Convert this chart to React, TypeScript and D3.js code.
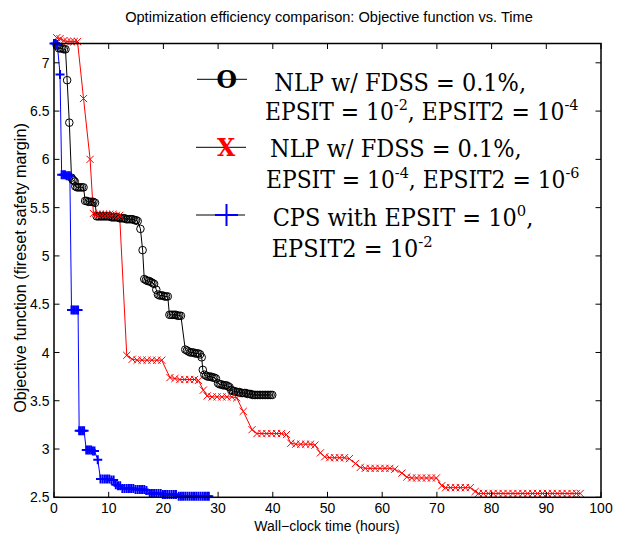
import React from 'react';
import * as d3 from 'd3';

// axis ticks
const xTicks = [0, 10, 20, 30, 40, 50, 60, 70, 80, 90, 100];
const yTicks = [2.5, 3, 3.5, 4, 4.5, 5, 5.5, 6, 6.5, 7];

// [wall-clock hours, objective]
// NLP w/ FDSS = 0.1%, EPSIT = 1e-2, EPSIT2 = 1e-4 (black circles)
const nlpCoarse: [number, number][] = [
  [0.5, 7.18], [0.9, 7.15], [1.2, 7.15], [1.5, 7.15], [1.8, 7.14], [2.1, 7.14],
  [2.4, 6.82], [2.8, 6.38], [3.2, 5.81], [3.4, 5.79], [3.6, 5.78], [3.8, 5.77],
  [3.9, 5.72], [4.2, 5.71], [4.5, 5.71], [4.8, 5.71], [5.1, 5.71], [5.4, 5.71],
  [5.7, 5.57], [6.0, 5.57], [6.3, 5.56], [6.6, 5.56], [6.9, 5.56], [7.2, 5.56], [7.5, 5.55],
  [7.8, 5.41], [8.1, 5.41], [8.4, 5.41], [8.7, 5.41], [9.0, 5.41], [9.3, 5.41], [9.6, 5.41],
  [9.9, 5.41], [10.2, 5.41], [10.5, 5.4], [10.8, 5.4], [11.1, 5.4], [11.4, 5.4], [11.7, 5.4],
  [12.0, 5.39], [12.3, 5.39], [12.6, 5.39], [12.9, 5.39], [13.2, 5.38], [13.5, 5.38],
  [13.8, 5.38], [14.1, 5.38], [14.4, 5.38], [14.7, 5.37], [15.0, 5.37], [15.3, 5.36],
  [15.8, 5.28], [16.2, 5.06],
  [16.5, 4.76], [16.8, 4.75], [17.1, 4.74], [17.4, 4.74], [17.7, 4.73], [18.0, 4.72], [18.3, 4.71],
  [18.7, 4.65], [19.0, 4.6], [19.3, 4.59], [19.6, 4.59], [19.9, 4.59], [20.2, 4.58], [20.5, 4.58], [20.8, 4.58],
  [21.1, 4.39], [21.4, 4.39], [21.7, 4.39], [22.0, 4.39], [22.3, 4.39], [22.6, 4.38], [22.9, 4.38], [23.2, 4.38],
  [24.0, 4.03], [24.3, 4.02], [24.6, 4.01], [24.9, 4.0], [25.2, 4.0], [25.5, 4.0], [25.8, 3.99],
  [26.1, 3.99], [26.4, 3.99], [26.7, 3.98], [27.0, 3.95], [27.2, 3.82],
  [27.5, 3.77], [27.8, 3.76], [28.1, 3.75], [28.4, 3.75], [28.7, 3.75], [29.0, 3.74], [29.3, 3.74], [29.6, 3.73],
  [30.0, 3.68], [30.3, 3.67], [30.6, 3.67], [30.9, 3.66], [31.2, 3.66], [31.5, 3.66], [31.8, 3.65], [32.1, 3.64],
  [32.4, 3.61], [32.7, 3.6], [33.0, 3.6], [33.3, 3.59], [33.6, 3.59], [33.9, 3.59], [34.2, 3.58],
  [34.5, 3.58], [34.8, 3.58], [35.1, 3.58], [35.4, 3.57], [35.7, 3.57],
  [36.0, 3.57], [36.3, 3.56], [36.6, 3.56], [36.9, 3.56], [37.2, 3.56], [37.5, 3.56], [37.8, 3.56],
  [38.1, 3.56], [38.4, 3.56], [38.7, 3.56], [39.0, 3.56], [39.3, 3.56], [39.6, 3.56], [39.9, 3.56],
];

// NLP w/ FDSS = 0.1%, EPSIT = 1e-4, EPSIT2 = 1e-6 (red x)
const nlpFine: [number, number][] = [
  [0.5, 7.26], [1.1, 7.25], [1.8, 7.23], [2.4, 7.22], [3.1, 7.22], [3.7, 7.22], [4.3, 7.22],
  [5.4, 6.63], [6.6, 6.0],
  [7.2, 5.44], [7.8, 5.43], [8.4, 5.43], [9.0, 5.43], [9.6, 5.43], [10.2, 5.43], [10.8, 5.43], [11.4, 5.42], [12.0, 5.42],
  [13.3, 3.97], [14.3, 3.93], [15.2, 3.92], [16.1, 3.92], [17.0, 3.92], [17.9, 3.92], [18.8, 3.92], [19.7, 3.92],
  [21.2, 3.74], [22.1, 3.73], [23.0, 3.72], [23.9, 3.72], [24.8, 3.72], [25.7, 3.72], [26.4, 3.71],
  [27.3, 3.61], [28.0, 3.55], [28.9, 3.54], [29.8, 3.54], [30.7, 3.54], [31.6, 3.54], [32.5, 3.54], [33.4, 3.53],
  [34.6, 3.39], [36.2, 3.2],
  [37.1, 3.16], [38.0, 3.16], [38.9, 3.16], [39.8, 3.16], [40.7, 3.16], [41.6, 3.16], [42.5, 3.15],
  [43.3, 3.06], [44.2, 3.05], [45.1, 3.05], [46.0, 3.05], [46.9, 3.05], [47.7, 3.04],
  [48.7, 2.96],
  [49.5, 2.92], [50.4, 2.91], [51.3, 2.91], [52.2, 2.91], [53.1, 2.91], [54.0, 2.9],
  [55.1, 2.85],
  [56.0, 2.81], [56.9, 2.8], [57.8, 2.8], [58.7, 2.8], [59.6, 2.8], [60.5, 2.8], [61.4, 2.8], [62.3, 2.79],
  [63.6, 2.75],
  [64.5, 2.71], [65.4, 2.7], [66.3, 2.7], [67.2, 2.7], [68.1, 2.7], [69.0, 2.7], [69.9, 2.7],
  [70.9, 2.62],
  [71.6, 2.6], [72.5, 2.6], [73.4, 2.6], [74.3, 2.6], [75.2, 2.6], [76.1, 2.6],
  [77.0, 2.56],
  [77.6, 2.54], [78.5, 2.54], [79.4, 2.54], [80.3, 2.54], [81.2, 2.54], [82.1, 2.54], [83.0, 2.54],
  [83.9, 2.54], [84.8, 2.54], [85.7, 2.54], [86.6, 2.54], [87.5, 2.54], [88.4, 2.54], [89.3, 2.54],
  [90.2, 2.54], [91.1, 2.54], [92.0, 2.54], [92.9, 2.54], [93.8, 2.54], [94.7, 2.54], [95.5, 2.54], [96.2, 2.54],
];

// CPS with EPSIT = 1e0, EPSIT2 = 1e-2 (blue +)
const cps: [number, number][] = [
  [0, 7.2], [0.3, 7.2], [0.6, 7.19], [1.1, 6.88],
  [1.4, 5.84], [1.7, 5.84], [2.0, 5.84], [2.3, 5.83], [2.6, 5.83], [2.9, 5.83],
  [3.2, 4.44], [3.5, 4.44], [3.8, 4.44], [4.1, 4.44], [4.4, 4.44],
  [4.6, 3.19], [4.9, 3.19], [5.2, 3.19], [5.5, 3.19],
  [5.9, 2.99], [6.2, 2.99], [6.5, 2.99], [6.8, 2.99], [7.1, 2.98], [7.4, 2.98],
  [8.0, 2.89],
  [8.5, 2.69], [8.9, 2.69], [9.3, 2.69], [9.7, 2.69], [10.1, 2.69], [10.5, 2.68], [10.9, 2.68],
  [11.3, 2.63], [11.7, 2.62], [12.1, 2.62],
  [12.5, 2.59], [12.9, 2.59], [13.3, 2.59], [13.7, 2.59], [14.1, 2.59], [14.5, 2.59], [14.9, 2.58],
  [15.3, 2.58], [15.7, 2.58], [16.1, 2.58], [16.5, 2.58], [16.9, 2.57],
  [17.5, 2.54], [17.9, 2.54], [18.3, 2.54], [18.7, 2.54], [19.1, 2.54], [19.5, 2.54], [19.9, 2.53],
  [20.3, 2.53], [20.7, 2.53], [21.1, 2.53], [21.5, 2.53], [21.9, 2.53], [22.3, 2.53],
  [22.8, 2.51], [23.2, 2.51], [23.6, 2.51], [24.0, 2.51], [24.4, 2.51], [24.8, 2.51], [25.2, 2.51],
  [25.6, 2.51], [26.0, 2.51], [26.4, 2.51], [26.8, 2.51], [27.2, 2.51], [27.6, 2.51], [28.0, 2.51], [28.3, 2.51],
];

const W = 623;
const H = 537;
const sans = "'Liberation Sans', Arial, Helvetica, sans-serif";
const serif = "'DejaVu Serif', 'Liberation Serif', 'Times New Roman', serif";

// one legend text line, squeezed a little horizontally
function LegendLine({ x, y, sx = 0.955, children }: { x: number; y: number; sx?: number; children: React.ReactNode }) {
  return (
    <g transform={`translate(${x},${y}) scale(${sx},1)`}>
      <text x={0} y={0}>{children}</text>
    </g>
  );
}

export default function App() {
  const x = d3.scaleLinear().domain([0, 100]).range([54, 601]);
  const y = d3.scaleLinear().domain([2.5, 7.2]).range([497.3, 43.5]);
  const [x0, x1] = x.range();
  const [y0, y1] = y.range();
  const line = d3.line<[number, number]>().x(d => x(d[0])).y(d => y(d[1]));
  const tick = 5.5;
  const supSize = 15.5;

  return (
    <div style={{ position: 'absolute', left: 0, top: 0, width: W, height: H, background: '#fff' }}>
      <svg width={W} height={H} style={{ display: 'block' }}>
        <text x={329} y={22} textAnchor="middle" style={{ fontFamily: sans, fontSize: 14.6 }}>
          Optimization efficiency comparison: Objective function vs. Time
        </text>

        {/* series lines */}
        <path d={line(cps) || ''} fill="none" stroke="#0000ff" strokeWidth={1} />
        <path d={line(nlpFine) || ''} fill="none" stroke="#ff0000" strokeWidth={1} />
        <path d={line(nlpCoarse) || ''} fill="none" stroke="#000" strokeWidth={1} />

        {/* markers */}
        <g stroke="#000" fill="none" strokeWidth={1}>
          {nlpCoarse.map((d, i) => (
            <circle key={i} cx={x(d[0])} cy={y(d[1])} r={3.8} />
          ))}
        </g>
        <g stroke="#ff0000" strokeWidth={1}>
          {nlpFine.map((d, i) => {
            const cx = x(d[0]), cy = y(d[1]), s = 3.6;
            return <path key={i} d={`M${cx - s},${cy - s}L${cx + s},${cy + s}M${cx - s},${cy + s}L${cx + s},${cy - s}`} />;
          })}
        </g>
        <g stroke="#0000ff" strokeWidth={2}>
          {cps.map((d, i) => {
            const cx = x(d[0]), cy = y(d[1]), s = 4.5;
            return <path key={i} d={`M${cx - s},${cy}L${cx + s},${cy}M${cx},${cy - s}L${cx},${cy + s}`} />;
          })}
        </g>

        {/* axes box and ticks */}
        <rect x={x0} y={y1} width={x1 - x0} height={y0 - y1} fill="none" stroke="#000" strokeWidth={1.5} />
        <g stroke="#000" strokeWidth={1}>
          {xTicks.map(t => (
            <g key={t}>
              <line x1={x(t)} x2={x(t)} y1={y0} y2={y0 - tick} />
              <line x1={x(t)} x2={x(t)} y1={y1} y2={y1 + tick} />
            </g>
          ))}
          {yTicks.map(t => (
            <g key={t}>
              <line x1={x0} x2={x0 + tick} y1={y(t)} y2={y(t)} />
              <line x1={x1} x2={x1 - tick} y1={y(t)} y2={y(t)} />
            </g>
          ))}
        </g>
        <g style={{ fontFamily: sans, fontSize: 14 }} fill="#000">
          {xTicks.map(t => (
            <text key={t} x={x(t)} y={512.5} textAnchor="middle">{t}</text>
          ))}
          {yTicks.map(t => (
            <text key={t} x={49.5} y={y(t)} dy="0.36em" textAnchor="end">{t}</text>
          ))}
          <text x={327} y={530.5} textAnchor="middle">Wall−clock time (hours)</text>
          <text transform="translate(26,268) rotate(-90)" textAnchor="middle" style={{ fontSize: 16.2 }}>
            Objective function (fireset safety margin)
          </text>
        </g>

        {/* legend */}
        <g style={{ fontFamily: serif, fontSize: 23.5 }} fill="#000">
          <line x1={197} x2={247} y1={79.3} y2={79.3} stroke="#000" strokeWidth={1} />
          <text x={226.7} y={88} textAnchor="middle" fontWeight="bold">O</text>
          <LegendLine x={274.3} y={90.5}>NLP w/ FDSS = 0.1%,</LegendLine>
          <LegendLine x={265} y={120} sx={0.93}>
            <tspan>EPSIT = 10</tspan>
            <tspan dy={-10} fontSize={supSize}>-2</tspan>
            <tspan dy={10}>, EPSIT2 = 10</tspan>
            <tspan dy={-10} fontSize={supSize}>-4</tspan>
          </LegendLine>

          <line x1={196} x2={246} y1={147.3} y2={147.3} stroke="#000" strokeWidth={1} />
          <text x={226} y={156.3} textAnchor="middle" fontWeight="bold" fill="#ff0000">X</text>
          <LegendLine x={270} y={156.7}>NLP w/ FDSS = 0.1%,</LegendLine>
          <LegendLine x={266} y={188.3} sx={0.93}>
            <tspan>EPSIT = 10</tspan>
            <tspan dy={-10} fontSize={supSize}>-4</tspan>
            <tspan dy={10}>, EPSIT2 = 10</tspan>
            <tspan dy={-10} fontSize={supSize}>-6</tspan>
          </LegendLine>

          <line x1={196} x2={245} y1={215} y2={215} stroke="#000" strokeWidth={1} />
          <path d="M215,215L238,215M226.5,204L226.5,226" stroke="#0000ff" strokeWidth={2} />
          <LegendLine x={272.7} y={225.7}>
            <tspan>CPS with EPSIT = 10</tspan>
            <tspan dy={-10} fontSize={supSize}>0</tspan>
            <tspan dy={10}>,</tspan>
          </LegendLine>
          <LegendLine x={271.7} y={256.7}>
            <tspan>EPSIT2 = 10</tspan>
            <tspan dy={-10} fontSize={supSize}>-2</tspan>
          </LegendLine>
        </g>
      </svg>
    </div>
  );
}
